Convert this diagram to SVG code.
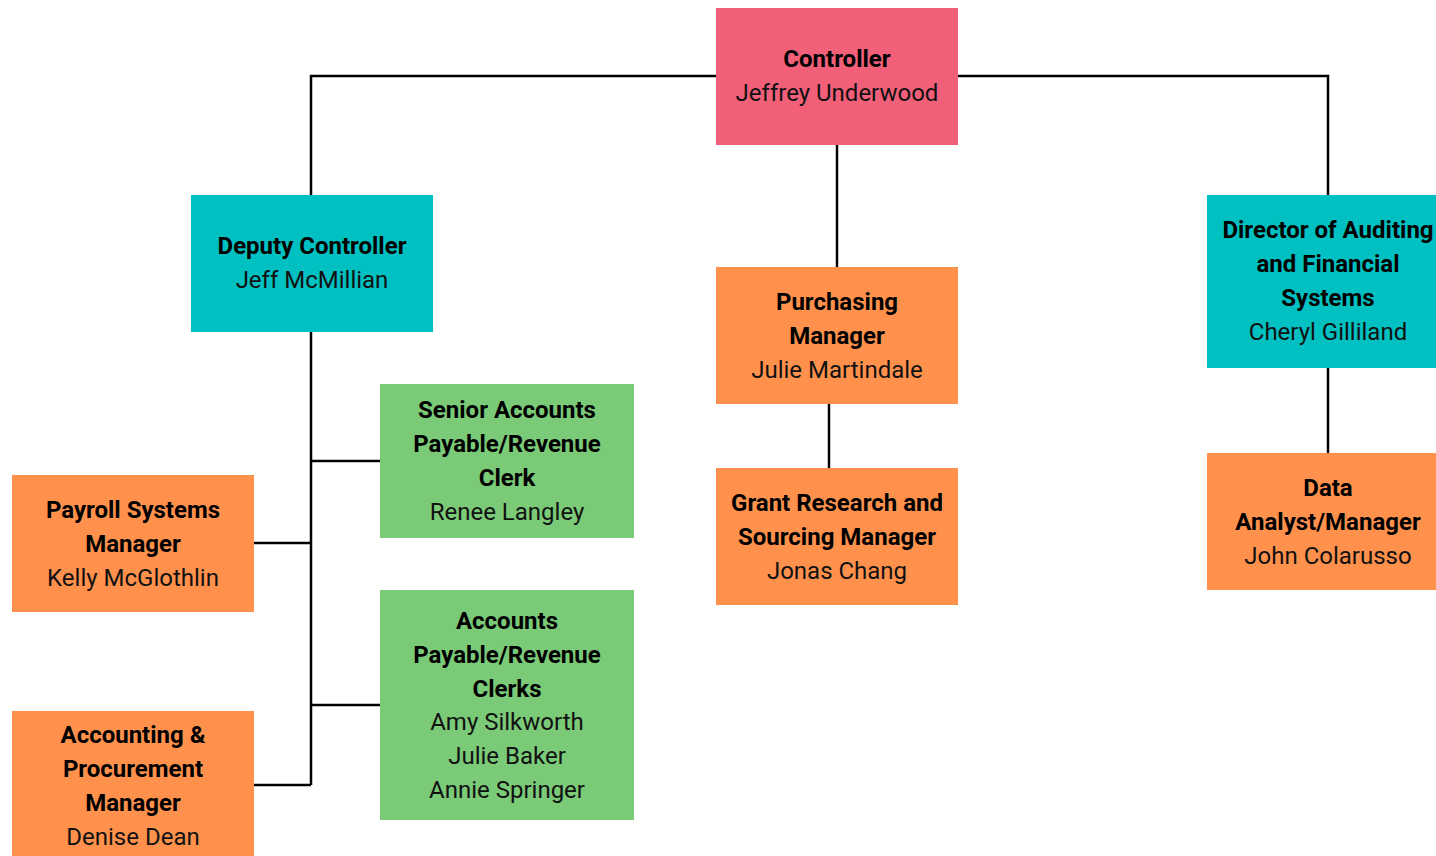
<svg xmlns="http://www.w3.org/2000/svg" width="1436" height="856" viewBox="0 0 1436 856">
<style>
.b{font-family:Roboto,"Liberation Sans",sans-serif;font-size:24px;font-weight:bold;fill:#000;text-anchor:middle}
.n{font-family:Roboto,"Liberation Sans",sans-serif;font-size:24px;fill:#111;text-anchor:middle}
.pink{fill:#F15F79}
.teal{fill:#00C0C1}
.orange{fill:#FF914D}
.green{fill:#7ACA78}
.c{fill:none;stroke:#000;stroke-width:2.5}
</style>
<rect width="1436" height="856" fill="#fff"/>
<g id="connectors">
<path class="c" d="M716,76H311V195"/>
<path class="c" d="M958,76H1328V195"/>
<path class="c" d="M837,145V267"/>
<path class="c" d="M829,404V468"/>
<path class="c" d="M1328,368V453"/>
<path class="c" d="M311,332V785"/>
<path class="c" d="M311,461H380"/>
<path class="c" d="M254,543H311"/>
<path class="c" d="M311,705H380"/>
<path class="c" d="M254,785H311"/>
</g>
<g id="controller">
<rect class="pink" x="716" y="8" width="242" height="137"/>
<text class="b" x="837" y="67">Controller</text>
<text class="n" x="837" y="101">Jeffrey Underwood</text>
</g>
<g id="deputy">
<rect class="teal" x="191" y="195" width="242" height="137"/>
<text class="b" x="312" y="254">Deputy Controller</text>
<text class="n" x="312" y="288">Jeff McMillian</text>
</g>
<g id="director">
<rect class="teal" x="1207" y="195" width="242" height="173"/>
<text class="b" x="1328" y="238">Director of Auditing</text>
<text class="b" x="1328" y="272">and Financial</text>
<text class="b" x="1328" y="306">Systems</text>
<text class="n" x="1328" y="340">Cheryl Gilliland</text>
</g>
<g id="purchasing">
<rect class="orange" x="716" y="267" width="242" height="137"/>
<text class="b" x="837" y="310">Purchasing</text>
<text class="b" x="837" y="344">Manager</text>
<text class="n" x="837" y="378">Julie Martindale</text>
</g>
<g id="grant">
<rect class="orange" x="716" y="468" width="242" height="137"/>
<text class="b" x="837" y="511">Grant Research and</text>
<text class="b" x="837" y="545">Sourcing Manager</text>
<text class="n" x="837" y="579">Jonas Chang</text>
</g>
<g id="data-analyst">
<rect class="orange" x="1207" y="453" width="242" height="137"/>
<text class="b" x="1328" y="496">Data</text>
<text class="b" x="1328" y="530">Analyst/Manager</text>
<text class="n" x="1328" y="564">John Colarusso</text>
</g>
<g id="senior-ap">
<rect class="green" x="380" y="384" width="254" height="154"/>
<text class="b" x="507" y="418">Senior Accounts</text>
<text class="b" x="507" y="452">Payable/Revenue</text>
<text class="b" x="507" y="486">Clerk</text>
<text class="n" x="507" y="520">Renee Langley</text>
</g>
<g id="payroll">
<rect class="orange" x="12" y="475" width="242" height="137"/>
<text class="b" x="133" y="518">Payroll Systems</text>
<text class="b" x="133" y="552">Manager</text>
<text class="n" x="133" y="586">Kelly McGlothlin</text>
</g>
<g id="ap-clerks">
<rect class="green" x="380" y="590" width="254" height="230"/>
<text class="b" x="507" y="629">Accounts</text>
<text class="b" x="507" y="663">Payable/Revenue</text>
<text class="b" x="507" y="697">Clerks</text>
<text class="n" x="507" y="730">Amy Silkworth</text>
<text class="n" x="507" y="764">Julie Baker</text>
<text class="n" x="507" y="798">Annie Springer</text>
</g>
<g id="accounting">
<rect class="orange" x="12" y="711" width="242" height="150"/>
<text class="b" x="133" y="743">Accounting &amp;</text>
<text class="b" x="133" y="777">Procurement</text>
<text class="b" x="133" y="811">Manager</text>
<text class="n" x="133" y="845">Denise Dean</text>
</g>
</svg>
